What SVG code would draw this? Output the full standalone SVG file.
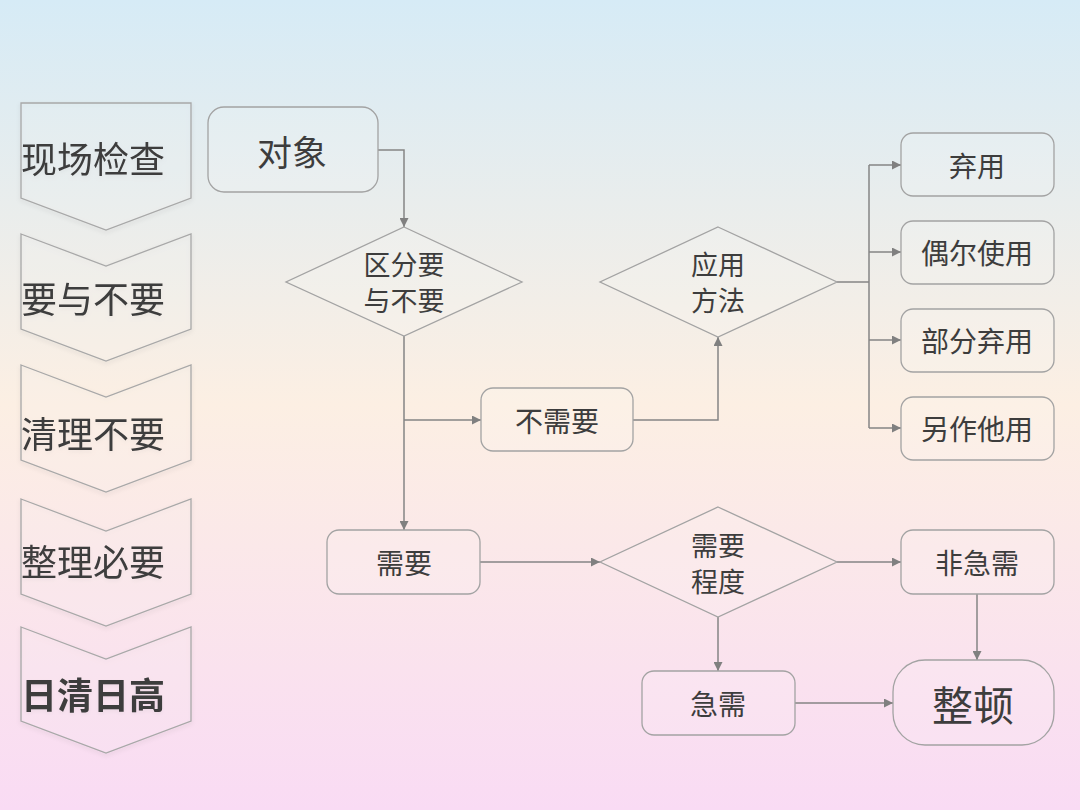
<svg xmlns="http://www.w3.org/2000/svg" width="1080" height="810" viewBox="0 0 1080 810">
<defs>
<linearGradient id="bg" x1="0" y1="0" x2="0" y2="1">
<stop offset="0" stop-color="#d6ebf6"/>
<stop offset="0.5" stop-color="#fcefe3"/>
<stop offset="1" stop-color="#f9dbf4"/>
</linearGradient>
<marker id="arr" viewBox="0 0 10 10" refX="10" refY="5" markerWidth="9" markerHeight="9" markerUnits="userSpaceOnUse" orient="auto">
<path d="M0,0 L10,5 L0,10 z" fill="#808080"/>
</marker>
<filter id="sh" x="-10%" y="-10%" width="120%" height="130%">
<feDropShadow dx="0" dy="2" stdDeviation="2" flood-color="#000" flood-opacity="0.12"/>
</filter>
</defs>
<style>
.box{fill:#ffffff;fill-opacity:0.12;stroke:#a3a3a3;stroke-width:1.3}
.chev{fill:#ffffff;fill-opacity:0.1;stroke:#a8a8a8;stroke-width:1.3}
.t{font-family:"Noto Sans CJK SC","Noto Sans",sans-serif;fill:#3d3d3d;text-anchor:middle;dominant-baseline:central}
.d{font-size:27px}
.ct{font-family:"Noto Sans CJK SC","Noto Sans",sans-serif;fill:#3d3d3d;font-size:36px;dominant-baseline:central}
.ln{fill:none;stroke:#858585;stroke-width:1.5}
</style>
<rect width="1080" height="810" fill="url(#bg)"/>

<g id="steps">
<g id="step1" filter="url(#sh)"><path class="chev" d="M21,103 L191,103 L191,198 L106,230 L21,198 Z"/><text class="ct" x="21" y="157">现场检查</text></g>
<g id="step2" filter="url(#sh)"><path class="chev" d="M21,234 L106,266 L191,234 L191,329 L106,361 L21,329 Z"/><text class="ct" x="21" y="297">要与不要</text></g>
<g id="step3" filter="url(#sh)"><path class="chev" d="M21,365 L106,397 L191,365 L191,460 L106,492 L21,460 Z"/><text class="ct" x="21" y="432">清理不要</text></g>
<g id="step4" filter="url(#sh)"><path class="chev" d="M21,499 L106,531 L191,499 L191,594 L106,626 L21,594 Z"/><text class="ct" x="21" y="560">整理必要</text></g>
<g id="step5" filter="url(#sh)"><path class="chev" d="M21,627 L106,659 L191,627 L191,721 L106,753 L21,721 Z"/><text class="ct" x="21" y="693" font-weight="bold">日清日高</text></g>
</g>

<g id="connectors">
<path class="ln" marker-end="url(#arr)" d="M378,150 H404 V227"/>
<path class="ln" marker-end="url(#arr)" d="M404,336 V530"/>
<path class="ln" marker-end="url(#arr)" d="M404,420 H481"/>
<path class="ln" marker-end="url(#arr)" d="M633,420 H718 V337"/>
<path class="ln" d="M837,282 H869 M869,165 V428"/>
<path class="ln" marker-end="url(#arr)" d="M869,165 H901"/>
<path class="ln" marker-end="url(#arr)" d="M869,252 H901"/>
<path class="ln" marker-end="url(#arr)" d="M869,340 H901"/>
<path class="ln" marker-end="url(#arr)" d="M869,428 H901"/>
<path class="ln" marker-end="url(#arr)" d="M480,562 H600"/>
<path class="ln" marker-end="url(#arr)" d="M837,562 H901"/>
<path class="ln" marker-end="url(#arr)" d="M718,617 V671"/>
<path class="ln" marker-end="url(#arr)" d="M977,594 V660"/>
<path class="ln" marker-end="url(#arr)" d="M795,703 H893"/>
</g>

<g id="n-duixiang"><rect class="box" x="208" y="107" width="170" height="85" rx="16"/><text class="t" x="292" y="150" font-size="35">对象</text></g>
<g id="n-qufen"><path class="box" d="M404,227 L522,282 L404,336 L286,282 Z"/><text class="t d" x="404" y="263">区分要</text><text class="t d" x="404" y="299">与不要</text></g>
<g id="n-yingyong"><path class="box" d="M718,227 L837,282 L718,337 L600,282 Z"/><text class="t d" x="718" y="263">应用</text><text class="t d" x="718" y="299">方法</text></g>
<g id="n-buxuyao"><rect class="box" x="481" y="388" width="152" height="63" rx="12"/><text class="t" x="557" y="420" font-size="28">不需要</text></g>
<g id="n-qiyong"><rect class="box" x="901" y="133" width="153" height="63" rx="12"/><text class="t" x="977" y="165" font-size="28">弃用</text></g>
<g id="n-ouer"><rect class="box" x="901" y="221" width="153" height="63" rx="12"/><text class="t" x="977" y="252" font-size="28">偶尔使用</text></g>
<g id="n-bufen"><rect class="box" x="901" y="309" width="153" height="63" rx="12"/><text class="t" x="977" y="340" font-size="28">部分弃用</text></g>
<g id="n-lingzuo"><rect class="box" x="901" y="397" width="153" height="63" rx="12"/><text class="t" x="977" y="428" font-size="28">另作他用</text></g>
<g id="n-xuyao"><rect class="box" x="327" y="530" width="153" height="64" rx="12"/><text class="t" x="404" y="562" font-size="28">需要</text></g>
<g id="n-chengdu"><path class="box" d="M718,507 L837,562 L718,617 L600,562 Z"/><text class="t d" x="718" y="544">需要</text><text class="t d" x="718" y="580">程度</text></g>
<g id="n-feijixu"><rect class="box" x="901" y="530" width="153" height="64" rx="12"/><text class="t" x="977" y="562" font-size="28">非急需</text></g>
<g id="n-jixu"><rect class="box" x="642" y="671" width="153" height="64" rx="12"/><text class="t" x="718" y="703" font-size="28">急需</text></g>
<g id="n-zhengdun"><rect class="box" x="893" y="660" width="161" height="85" rx="32"/><text class="t" x="973" y="703" font-size="41">整顿</text></g>
</svg>
